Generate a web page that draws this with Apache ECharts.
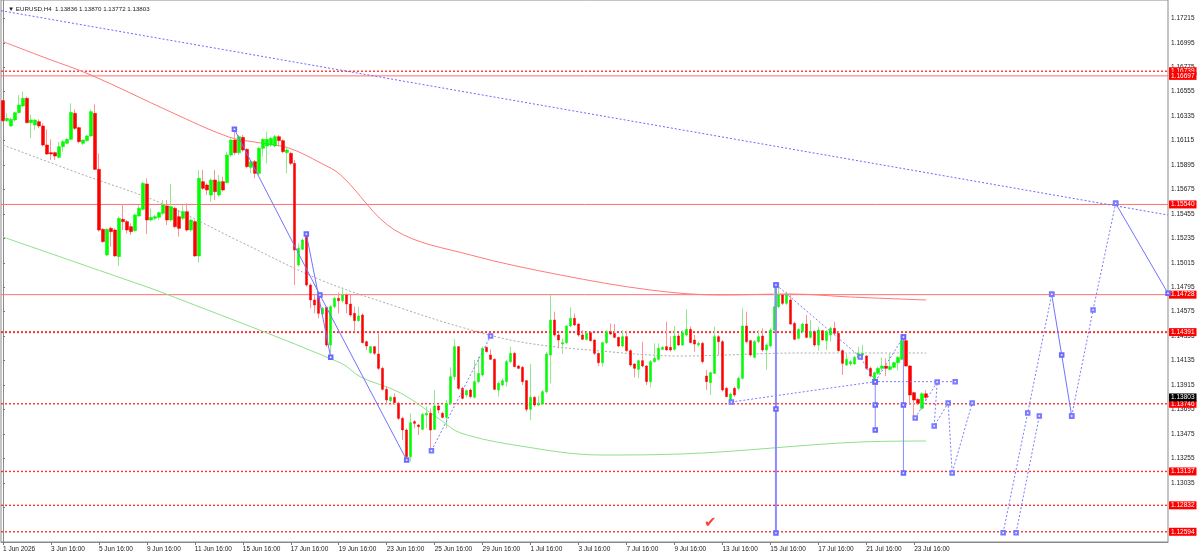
<!DOCTYPE html>
<html><head><meta charset="utf-8">
<script src="https://cdn.jsdelivr.net/npm/echarts@6/dist/echarts.min.js"></script>
<style>html,body{margin:0;padding:0;background:#fff}#c{width:1200px;height:555px}</style>
</head><body><div id="c"></div><script>
const FONT = 'Liberation Sans';
const symbolName = 'EURUSD,H4';
const titleQuote = [1.13836, 1.13870, 1.13772, 1.13803];
const slotCount = 292; // bar slots incl. empty future space
const xTickStep = 12;
const xTickLabels = ['1 Jun 2026','3 Jun 16:00','5 Jun 16:00','9 Jun 16:00','11 Jun 16:00','15 Jun 16:00','17 Jun 16:00','19 Jun 16:00','23 Jun 16:00','25 Jun 16:00','29 Jun 16:00','1 Jul 16:00','3 Jul 16:00','7 Jul 16:00','9 Jul 16:00','13 Jul 16:00','15 Jul 16:00','17 Jul 16:00','21 Jul 16:00','23 Jul 16:00'];
const yTickValues = [1.17215,1.16995,1.16775,1.16555,1.16335,1.16115,1.15895,1.15675,1.15455,1.15235,1.15015,1.14795,1.14575,1.14355,1.14135,1.13915,1.13695,1.13475,1.13255,1.13035,1.12815];

// [open, close, low, high]
const candles = [
[1.16474,1.16294,1.16285,1.16480],[1.16294,1.16315,1.16285,1.16360],[1.16246,1.16306,1.16240,1.16324],[1.16300,1.16366,1.16285,1.16375],
[1.16366,1.16435,1.16360,1.16525],[1.16426,1.16495,1.16420,1.16555],[1.16495,1.16276,1.16270,1.16510],[1.16276,1.16300,1.16135,1.16345],
[1.16255,1.16300,1.16210,1.16306],[1.16285,1.16246,1.16225,1.16306],[1.16246,1.16075,1.16060,1.16270],[1.16075,1.15994,1.15985,1.16216],
[1.16006,1.15994,1.15940,1.16126],[1.16006,1.15976,1.15940,1.16015],[1.15964,1.16060,1.15955,1.16105],[1.16060,1.16105,1.16015,1.16120],
[1.16090,1.16126,1.16090,1.16135],[1.16126,1.16369,1.16120,1.16450],[1.16360,1.16225,1.16210,1.16396],[1.16231,1.16105,1.16090,1.16240],
[1.16090,1.16120,1.16075,1.16126],[1.16114,1.16156,1.16105,1.16165],[1.16156,1.16375,1.16150,1.16396],[1.16360,1.15856,1.15850,1.16441],
[1.15856,1.15310,1.15295,1.16000],[1.15316,1.15205,1.15196,1.15325],[1.15085,1.15316,1.15076,1.15325],[1.15325,1.15295,1.15160,1.15340],
[1.15310,1.15076,1.15070,1.15325],[1.15070,1.15415,1.14986,1.15430],[1.15406,1.15385,1.15310,1.15544],[1.15385,1.15310,1.15280,1.15400],
[1.15340,1.15295,1.15265,1.15370],[1.15304,1.15445,1.15295,1.15460],[1.15436,1.15505,1.15430,1.15535],[1.15496,1.15730,1.15484,1.15745],
[1.15724,1.15400,1.15274,1.15775],[1.15400,1.15424,1.15385,1.15505],[1.15415,1.15430,1.15400,1.15445],[1.15424,1.15466,1.15400,1.15475],
[1.15460,1.15535,1.15445,1.15580],[1.15526,1.15400,1.15355,1.15580],[1.15400,1.15520,1.15385,1.15724],[1.15505,1.15340,1.15325,1.15520],
[1.15430,1.15325,1.15250,1.15490],[1.15415,1.15475,1.15400,1.15535],[1.15475,1.15310,1.15295,1.15550],[1.15310,1.15400,1.15295,1.15415],
[1.15385,1.15076,1.15070,1.15400],[1.15076,1.15775,1.15016,1.15850],[1.15745,1.15685,1.15670,1.15850],[1.15715,1.15670,1.15625,1.15730],
[1.15625,1.15760,1.15565,1.15775],[1.15760,1.15655,1.15580,1.15850],[1.15625,1.15745,1.15610,1.15805],[1.15745,1.15670,1.15655,1.15790],
[1.15736,1.15985,1.15730,1.16015],[1.15985,1.16120,1.15970,1.16135],[1.16120,1.16006,1.15985,1.16216],[1.16006,1.16150,1.15985,1.16165],
[1.16144,1.16030,1.16015,1.16165],[1.16036,1.15880,1.15865,1.16045],[1.15874,1.15925,1.15820,1.15940],[1.15925,1.15820,1.15775,1.15940],
[1.15820,1.16045,1.15805,1.16060],[1.16045,1.16126,1.15970,1.16135],[1.16066,1.16126,1.15910,1.16195],[1.16075,1.16135,1.16060,1.16150],
[1.16066,1.16150,1.16054,1.16165],[1.16150,1.16114,1.16060,1.16165],[1.16114,1.16015,1.16000,1.16126],[1.16006,1.16030,1.15820,1.16060],
[1.16000,1.15910,1.15895,1.16015],[1.15910,1.15130,1.14815,1.15940],[1.14995,1.15145,1.14980,1.15190],[1.15136,1.15220,1.15130,1.15235],
[1.15265,1.14815,1.14800,1.15280],[1.14815,1.14680,1.14605,1.14830],[1.14680,1.14635,1.14560,1.14725],[1.14725,1.14560,1.14515,1.14755],
[1.14554,1.14605,1.14530,1.14620],[1.14614,1.14275,1.14260,1.14620],[1.14275,1.14620,1.14170,1.14635],[1.14620,1.14695,1.14605,1.14710],
[1.14695,1.14674,1.14560,1.14746],[1.14674,1.14725,1.14656,1.14794],[1.14725,1.14644,1.14560,1.14740],[1.14644,1.14545,1.14530,1.14725],
[1.14560,1.14494,1.14395,1.14620],[1.14494,1.14536,1.14485,1.14620],[1.14545,1.14296,1.14290,1.14560],[1.14305,1.14266,1.14230,1.14314],
[1.14206,1.14260,1.14194,1.14266],[1.14260,1.14200,1.14185,1.14266],[1.14194,1.14065,1.14050,1.14380],[1.14065,1.13876,1.13864,1.14080],
[1.13876,1.13780,1.13735,1.13900],[1.13774,1.13804,1.13756,1.13816],[1.13804,1.13756,1.13735,1.13840],[1.13750,1.13615,1.13600,1.13765],
[1.13615,1.13510,1.13420,1.13630],[1.13510,1.13270,1.13255,1.13525],[1.13270,1.13576,1.13225,1.13660],[1.13585,1.13570,1.13525,1.13600],
[1.13555,1.13540,1.13465,1.13564],[1.13516,1.13651,1.13510,1.13666],[1.13645,1.13660,1.13525,1.13720],[1.13660,1.13510,1.13330,1.13705],
[1.13516,1.13726,1.13510,1.13870],[1.13726,1.13690,1.13660,1.13735],[1.13660,1.13624,1.13615,1.13675],[1.13624,1.13750,1.13525,1.13780],
[1.13750,1.13990,1.13735,1.14074],[1.13990,1.14260,1.13960,1.14326],[1.14260,1.13885,1.13870,1.14266],[1.13885,1.13795,1.13786,1.13900],
[1.13825,1.13864,1.13804,1.13876],[1.13870,1.13810,1.13795,1.13885],[1.13804,1.13945,1.13795,1.14140],[1.13945,1.14020,1.13930,1.14170],
[1.14005,1.14245,1.13990,1.14260],[1.14254,1.14215,1.14206,1.14260],[1.14185,1.14146,1.14140,1.14236],[1.14146,1.13876,1.13870,1.14155],
[1.13870,1.13930,1.13810,1.13945],[1.13915,1.13954,1.13900,1.13975],[1.13945,1.14125,1.13900,1.14140],[1.14125,1.14200,1.14110,1.14260],
[1.14200,1.14080,1.14074,1.14215],[1.14086,1.14065,1.14056,1.14095],[1.14074,1.13945,1.13915,1.14086],[1.13954,1.13696,1.13675,1.13960],
[1.13696,1.13804,1.13600,1.14104],[1.13804,1.13735,1.13720,1.13816],[1.13735,1.13750,1.13726,1.13816],[1.13744,1.13855,1.13735,1.13870],
[1.13855,1.14194,1.13840,1.14215],[1.14185,1.14500,1.13930,1.14725],[1.14500,1.14365,1.14350,1.14575],[1.14365,1.14320,1.14245,1.14380],
[1.14284,1.14296,1.14194,1.14335],[1.14296,1.14446,1.14284,1.14455],[1.14446,1.14515,1.14434,1.14614],[1.14515,1.14455,1.14446,1.14560],
[1.14464,1.14365,1.14350,1.14470],[1.14365,1.14326,1.14320,1.14410],[1.14326,1.14380,1.14314,1.14395],[1.14386,1.14314,1.14305,1.14395],
[1.14320,1.14200,1.14185,1.14326],[1.14200,1.14116,1.14086,1.14206],[1.14116,1.14296,1.14080,1.14305],[1.14296,1.14395,1.14284,1.14410],
[1.14395,1.14374,1.14365,1.14470],[1.14380,1.14344,1.14335,1.14464],[1.14344,1.14266,1.14254,1.14350],[1.14266,1.14350,1.14254,1.14410],
[1.14350,1.14224,1.14215,1.14404],[1.14224,1.14095,1.14080,1.14236],[1.14104,1.14065,1.13984,1.14110],[1.14056,1.14134,1.13975,1.14140],
[1.14134,1.14086,1.14074,1.14305],[1.14086,1.13945,1.13915,1.14095],[1.13945,1.14125,1.13894,1.14140],[1.14125,1.14155,1.14116,1.14290],
[1.14146,1.14245,1.14134,1.14290],[1.14236,1.14254,1.14230,1.14266],[1.14260,1.14230,1.14224,1.14485],[1.14254,1.14230,1.14215,1.14350],
[1.14236,1.14356,1.14224,1.14446],[1.14356,1.14275,1.14266,1.14380],[1.14275,1.14386,1.14266,1.14410],[1.14365,1.14416,1.14350,1.14596],
[1.14416,1.14296,1.14290,1.14440],[1.14320,1.14284,1.14215,1.14365],[1.14275,1.14290,1.14260,1.14305],[1.14290,1.14125,1.14110,1.14305],
[1.13996,1.13945,1.13870,1.14050],[1.13936,1.14026,1.13825,1.14035],[1.14020,1.14350,1.14014,1.14440],[1.14350,1.14305,1.14185,1.14365],
[1.14305,1.13870,1.13855,1.14320],[1.13885,1.13810,1.13804,1.13900],[1.13765,1.13834,1.13756,1.13846],[1.13885,1.13825,1.13810,1.13900],
[1.13885,1.13975,1.13870,1.13990],[1.13975,1.14446,1.13966,1.14605],[1.14446,1.14305,1.14290,1.14575],[1.14314,1.14185,1.14170,1.14320],
[1.14164,1.14305,1.14155,1.14320],[1.14305,1.14350,1.14290,1.14410],[1.14356,1.14230,1.14215,1.14425],[1.14230,1.14275,1.14050,1.14290],
[1.14266,1.14410,1.14254,1.14425],[1.14410,1.14620,1.14395,1.14815],[1.14620,1.14725,1.14605,1.14800],[1.14725,1.14650,1.14635,1.14740],
[1.14650,1.14725,1.14635,1.14755],[1.14680,1.14464,1.14455,1.14740],[1.14470,1.14326,1.14320,1.14485],[1.14335,1.14416,1.14326,1.14425],
[1.14395,1.14464,1.14380,1.14476],[1.14464,1.14344,1.14335,1.14545],[1.14344,1.14395,1.14335,1.14500],[1.14395,1.14275,1.14260,1.14410],
[1.14275,1.14410,1.14224,1.14440],[1.14404,1.14320,1.14314,1.14410],[1.14314,1.14395,1.14230,1.14410],[1.14365,1.14425,1.14305,1.14440],
[1.14425,1.14380,1.14365,1.14485],[1.14380,1.14224,1.14215,1.14395],[1.14224,1.14110,1.14005,1.14236],[1.14095,1.14146,1.14086,1.14200],
[1.14104,1.14125,1.14086,1.14140],[1.14104,1.14164,1.14095,1.14176],[1.14164,1.14200,1.14155,1.14260],[1.14185,1.14200,1.14176,1.14275],
[1.14176,1.14065,1.14050,1.14185],[1.14065,1.13996,1.13984,1.14080],[1.13945,1.14026,1.13936,1.14035],[1.14020,1.14065,1.14005,1.14080],
[1.14065,1.14086,1.14050,1.14164],[1.14086,1.14065,1.13996,1.14155],[1.14056,1.14080,1.14050,1.14200],[1.14074,1.14116,1.14065,1.14125],
[1.14116,1.14164,1.14044,1.14176],[1.14146,1.14314,1.14140,1.14350],[1.14314,1.14086,1.14080,1.14335],[1.14086,1.13825,1.13735,1.14095],
[1.13846,1.13780,1.13615,1.13855],[1.13786,1.13750,1.13735,1.13795],[1.13705,1.13836,1.13690,1.13850],[1.13836,1.13803,1.13772,1.13870]
];

const solidLevels = [1.16697, 1.15540, 1.14728];
const dottedLevels = [1.16739, 1.14391, 1.13746, 1.13137, 1.12832, 1.12594];
const boldDottedLevel = 1.14391;
const lastPrice = 1.13803;

// indicator curves: [bar index, price]
const redMA = [[0,1.17005],[11,1.16854],[22,1.16705],[42,1.16372],[56.5,1.16147],[64.5,1.16093],[71.5,1.16048],[79.5,1.15913],[84.5,1.15805],[98,1.15310],[117,1.15085],[139.5,1.14905],[162,1.14770],[179.5,1.14725],[197,1.14734],[212,1.14707],[231,1.14680]];
const grayMA = [[0,1.16075],[19.5,1.15814],[39.5,1.15553],[59.5,1.15202],[79.5,1.14860],[99.5,1.14608],[114.5,1.14437],[129.5,1.14302],[149.5,1.14221],[169.5,1.14176],[199.5,1.14203],[231,1.14203]];
const greenMA = [[0,1.15247],[31,1.14860],[39.5,1.14752],[84.5,1.14113],[89.5,1.13987],[99.5,1.13843],[109.5,1.13600],[114.5,1.13483],[129.5,1.13366],[149.5,1.13285],[169.5,1.13294],[214.5,1.13402],[231,1.13411]];

// drawn objects: [bar index, price]
const trendLine = [[-0.5,1.17284],[291.5,1.15445]];
const solidPaths = [
  [[57.9,1.16216],[79.3,1.14725],[101,1.13240]],
  [[75.9,1.15274],[82,1.14164]],
  [[262.4,1.14731],[264.9,1.14185],[267.4,1.13636]],
  [[278.4,1.15550],[291.5,1.14740]]
];
const dottedPaths = [
  [[107.2,1.13324],[122,1.14356]],
  [[193.5,1.14815],[214.5,1.14167],[218.25,1.13945]],
  [[182.25,1.13762],[218.25,1.13945],[238.25,1.13945]],
  [[218.25,1.13945],[225.3,1.14347]],
  [[228.25,1.13618],[233.75,1.13942],[233,1.13546],[236.5,1.13753],[237.5,1.13123],[242.5,1.13753]],
  [[250.25,1.12586],[256.4,1.13663],[262.4,1.14731]],
  [[253.5,1.12586],[259.3,1.13636]],
  [[267.4,1.13636],[272.75,1.14590],[278.4,1.15550]]
];
const verticals = [
  {bar:193.4, from:1.14815, to:1.12583, mid:1.13699, w:2},
  {bar:218.25, from:1.13945, to:1.13510, mid:1.13735, w:1},
  {bar:225.3, from:1.14347, to:1.13123, mid:1.13735, w:1}
];
const checkMark = [177, 1.12673];

const chart = echarts.init(document.getElementById('c'), null, {renderer:'canvas'});
const slots = Array.from({length: slotCount}, (_, i) => i);
const xTickIdx = xTickLabels.map((_, i) => i * xTickStep);
const X0 = -0.5, X1 = 291.5;

const boxLabel = (bg) => ({
  show:true, distance:1, formatter: p => p.value[1].toFixed(5),
  backgroundColor: bg, color:'#fff', fontSize:6.5, fontFamily:FONT,
  padding:[1,2,0,2], lineHeight:7
});
const levelSeries = (v, color, type, width, bg) => ({
  type:'line', xAxisIndex:1, yAxisIndex:0, data:[[X0, v],[X1, v]], showSymbol:false, silent:true, clip:false, z:2,
  lineStyle:{color, type, width}, endLabel: boxLabel(bg)
});

const series = [];
dottedLevels.forEach(v => series.push(levelSeries(v, '#ff3030', [2, 2], v === boldDottedLevel ? 2 : 1.4, '#ff0000')));
solidLevels.forEach(v => series.push(levelSeries(v, '#ff7070', 'solid', 1, '#ff0000')));
series.push(levelSeries(lastPrice, 'rgba(0,0,0,0)', 'solid', 0, '#000000'));

series.push({
  type:'candlestick', name:'wicks', xAxisIndex:0, yAxisIndex:0, barWidth:1, z:3,
  data: candles,
  itemStyle:{color:'#a0eea0', color0:'#ffa4a4', borderColor:'#90ea90', borderColor0:'#ff9494', borderWidth:1}
});
series.push({
  type:'candlestick', name:'bodies', xAxisIndex:0, yAxisIndex:0, barWidth:3, z:4,
  data: candles.map(c => [c[0], c[1], Math.min(c[0], c[1]), Math.max(c[0], c[1])]),
  itemStyle:{color:'#00ff00', color0:'#ff0000', borderColor:'#00f000', borderColor0:'#f00000', borderWidth:0.5}
});
const curve = (data, color, type) => ({type:'line', xAxisIndex:1, yAxisIndex:0, data, smooth:0.35, showSymbol:false, silent:true, z:2,
  lineStyle:{color, width:1, type}});
series.push(curve(redMA, '#ff7a7a', 'solid'));
series.push(curve(grayMA, '#aaaaaa', [2, 2]));
series.push(curve(greenMA, '#8fe08f', 'solid'));
series.push({type:'line', xAxisIndex:1, yAxisIndex:0, data:trendLine, showSymbol:false, silent:true, z:5,
  lineStyle:{color:'#6a6aff', width:1, type:[2, 2]}});
solidPaths.forEach(p => series.push({type:'line', xAxisIndex:1, yAxisIndex:0, data:p, silent:true, z:6,
  symbol:'emptyRect', symbolSize:3.5, itemStyle:{color:'#6a6aff', borderWidth:1}, lineStyle:{color:'#7272ff', width:1}}));
dottedPaths.forEach(p => series.push({type:'line', xAxisIndex:1, yAxisIndex:0, data:p, silent:true, z:6,
  symbol:'emptyRect', symbolSize:3.5, itemStyle:{color:'#7a7aff', borderWidth:1}, lineStyle:{color:'#7a7aff', width:1, type:[2, 2]}}));
verticals.forEach(v => series.push({type:'line', xAxisIndex:1, yAxisIndex:0, silent:true, z:6,
  data:[[v.bar, v.from],[v.bar, v.mid],[v.bar, v.to]],
  symbol:'emptyRect', symbolSize:3.5, itemStyle:{color:'#6a6aff', borderWidth:1}, lineStyle:{color:'#8c8cff', width:v.w}}));
series.push({type:'scatter', xAxisIndex:1, yAxisIndex:0, data:[checkMark], symbolSize:1, silent:true, z:7,
  itemStyle:{color:'rgba(0,0,0,0)'},
  label:{show:true, position:'inside', formatter:'\u2714', color:'#ff1010', fontSize:15, fontFamily:'DejaVu Sans'}});

chart.setOption({
  animation:false,
  backgroundColor:'#ffffff',
  title:{text:'\u25BC ' + symbolName + '  ' + titleQuote.map(v => v.toFixed(5)).join(' '), left:3, top:1,
    textStyle:{fontSize:6.2, fontWeight:'normal', color:'#1a1a1a', fontFamily:FONT}},
  grid:{left:0, right:32, top:0, bottom:13, show:true, borderColor:'#8a8a8a', borderWidth:1, backgroundColor:'#fff'},
  xAxis:[
    {type:'category', data:slots, boundaryGap:true, show:false},
    {type:'value', min:X0, max:X1, position:'bottom', splitLine:{show:false},
      axisLine:{show:true, lineStyle:{color:'#8a8a8a'}},
      axisTick:{show:true, customValues:xTickIdx, length:3, lineStyle:{color:'#777'}},
      axisLabel:{show:true, customValues:xTickIdx, formatter:v => xTickLabels[Math.round(v / xTickStep)] || '',
        align:'left', fontSize:6.5, color:'#1a1a1a', margin:4, fontFamily:FONT}}
  ],
  yAxis:{type:'value', position:'right', min:1.12502, max:1.17380, scale:true, splitLine:{show:false},
    axisLine:{show:true, lineStyle:{color:'#8a8a8a'}},
    axisTick:{show:true, customValues:yTickValues, length:2, lineStyle:{color:'#777'}},
    axisLabel:{show:true, customValues:yTickValues, formatter:v => v.toFixed(5), fontSize:6.5, color:'#1a1a1a', margin:3, fontFamily:FONT}},
  series
});
</script></body></html>
